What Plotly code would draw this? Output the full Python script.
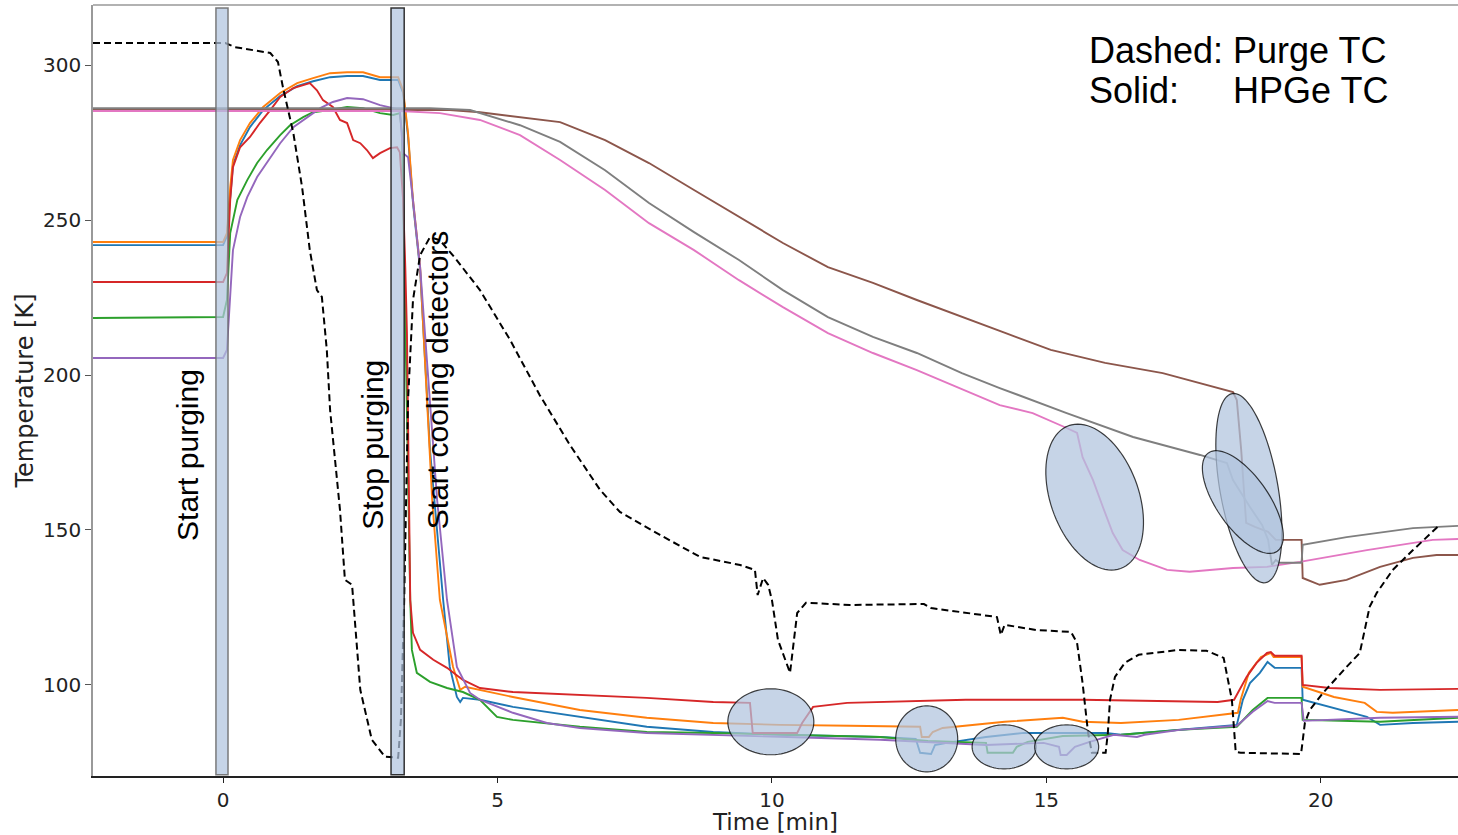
import numpy as np
import plotly.graph_objects as go

# ---------------- data (time in min, temperature in K) ----------------
purge_t = [-2.37, 0.04, 0.22, 0.86, 1.00, 1.09, 1.28, 1.44, 1.58, 1.71, 1.80, 1.89, 1.95, 2.13, 2.22, 2.35,
           2.50, 2.71, 2.95, 3.19, 3.24, 3.30, 3.37, 3.46, 3.59, 3.77, 3.95, 4.23, 4.68, 5.23, 5.77, 6.32,
           6.87, 7.23, 7.96, 8.69, 9.42, 9.69, 9.74, 9.84, 9.93, 10.00, 10.11, 10.33, 10.46, 10.62, 11.42,
           12.77, 12.90, 14.10, 14.17, 14.24, 14.81, 15.45, 15.56, 15.66, 15.76, 15.83, 16.08, 16.12, 16.16,
           16.25, 16.43, 16.68, 17.41, 17.92, 18.23, 18.38, 18.45, 18.54, 19.64, 19.71, 19.80, 20.04, 20.47,
           20.71, 20.80, 20.89, 21.02, 21.31, 21.68, 22.13]
purge_T = [307.1, 307.1, 305.8, 303.9, 301.0, 292.9, 278.1, 260.6, 240.3, 227.4, 225.2, 208.1, 188.7, 156.5, 133.9, 132.3,
           98.4, 82.3, 76.8, 76.5, 88.7, 127.4, 191.9, 224.2, 238.7, 244.5, 243.5, 237.7, 227.4, 211.3, 193.5, 177.4,
           162.9, 155.8, 148.4, 141.3, 138.7, 137.1, 129.0, 134.5, 132.3, 127.4, 114.5, 103.9, 123.2, 126.5, 125.8,
           126.1, 124.8, 121.9, 116.1, 119.4, 117.7, 117.1, 113.5, 100.6, 84.5, 78.1, 78.1, 84.5, 95.2,
           102.6, 107.1, 109.7, 111.3, 111.0, 108.7, 95.2, 78.4, 78.1, 77.7, 87.7, 91.9, 97.4, 105.8,
           110.3, 117.7, 125.2, 129.7, 137.1, 143.5, 151.0]

blue_t = [-2.37, 0.0, 0.07, 0.13, 0.18, 0.31, 0.49, 0.73, 1.04, 1.35, 1.64, 1.95, 2.26, 2.55, 2.86, 3.19, 3.28, 3.37,
          3.46, 3.59, 3.77, 4.01, 4.13, 4.26, 4.32, 4.37, 4.68, 5.28, 6.50, 7.72, 8.93, 10.15, 11.97, 12.62, 12.70,
          12.90, 12.97, 13.19, 13.90, 14.59, 15.30, 16.08, 16.36, 17.43, 18.47, 18.58, 18.71, 18.89, 19.03, 19.16,
          19.65, 19.67, 20.16, 20.84, 21.08, 21.68, 22.50]
blue_T = [241.9, 241.9, 244.8, 259.0, 267.7, 274.2, 280.0, 285.5, 290.0, 293.2, 294.8, 296.1, 296.5, 296.5, 295.2, 295.2, 291.0, 277.1,
          255.5, 233.9, 175.8, 127.4, 105.8, 96.1, 94.5, 95.8, 95.2, 92.9, 89.7, 86.5, 84.8, 83.9, 83.2, 82.6, 78.1,
          77.7, 80.6, 81.3, 83.2, 84.5, 84.5, 84.5, 83.9, 85.5, 87.1, 95.2, 100.6, 103.9, 107.4, 105.5,
          105.5, 95.2, 92.9, 89.7, 87.1, 87.7, 88.1]

orange_t = [-2.37, 0.0, 0.07, 0.13, 0.18, 0.31, 0.49, 0.73, 1.04, 1.35, 1.64, 1.95, 2.26, 2.55, 2.86, 3.19, 3.28, 3.37,
            3.46, 3.59, 3.81, 3.95, 4.19, 4.32, 4.41, 4.68, 5.28, 6.50, 7.72, 8.93, 10.15, 11.42, 12.70, 12.73, 12.86,
            12.93, 13.11, 14.24, 15.30, 15.66, 16.36, 17.41, 18.49, 18.54, 18.69, 18.91, 19.09, 19.14, 19.65, 19.67,
            20.24, 20.80, 21.02, 21.31, 22.50]
orange_T = [242.9, 242.9, 245.8, 260.6, 269.4, 275.8, 281.3, 286.5, 291.0, 294.2, 295.8, 297.4, 297.7, 297.7, 296.1, 296.1, 291.9, 278.1,
            256.5, 234.8, 159.7, 127.4, 105.8, 98.4, 99.4, 98.4, 96.1, 91.9, 89.4, 87.7, 87.1, 86.8, 86.5, 83.2, 83.2,
            84.8, 86.1, 88.1, 89.4, 88.1, 87.7, 88.7, 91.0, 95.2, 103.9, 109.0, 110.3, 109.0, 109.0, 99.4,
            96.1, 94.2, 91.3, 91.0, 91.9]

green_t = [-2.37, 0.0, 0.07, 0.13, 0.26, 0.44, 0.62, 0.80, 1.04, 1.22, 1.46, 1.64, 1.95, 2.26, 2.55, 2.86, 3.10, 3.22,
           3.26, 3.28, 3.32, 3.35, 3.41, 3.44, 3.53, 3.77, 4.08, 4.37, 4.68, 4.99, 5.28, 6.50, 7.72, 8.93, 10.15,
           11.97, 12.84, 13.90, 13.93, 14.39, 14.46, 14.66, 15.30, 16.36, 17.43, 18.47, 18.76, 19.03, 19.16, 19.65,
           19.67, 21.08, 22.50]
green_T = [218.4, 218.7, 224.2, 245.8, 256.5, 262.9, 268.4, 272.6, 277.4, 280.6, 283.2, 284.8, 285.5, 286.5, 286.1, 284.5, 283.9, 284.5,
           278.1, 256.5, 224.2, 185.5, 127.4, 111.3, 103.9, 101.0, 99.0, 97.7, 95.2, 89.7, 88.7, 86.5, 84.8, 84.5, 83.9,
           83.2, 81.9, 81.3, 78.1, 78.1, 80.0, 81.6, 83.5, 83.9, 85.5, 86.5, 91.9, 95.8, 95.8, 95.8,
           88.7, 88.1, 89.4]

red_t = [-2.37, 0.0, 0.07, 0.13, 0.18, 0.31, 0.49, 0.67, 0.86, 1.04, 1.28, 1.58, 1.71, 1.82, 2.00, 2.13, 2.26, 2.37,
         2.50, 2.62, 2.73, 2.86, 3.04, 3.17, 3.22, 3.28, 3.32, 3.35, 3.37, 3.41, 3.46, 3.59, 3.83, 4.08, 4.37, 4.68,
         5.28, 6.50, 7.72, 8.93, 9.60, 9.65, 10.46, 10.55, 10.75, 11.37, 13.53, 15.66, 18.12, 18.42, 18.65, 18.83,
         19.02, 19.09, 19.16, 19.65, 19.67, 20.16, 21.08, 22.50]
red_T = [230.0, 230.0, 232.9, 256.5, 267.1, 273.5, 276.8, 281.3, 285.5, 289.7, 292.6, 294.2, 291.9, 288.7, 286.5, 282.3, 281.3, 275.8,
         274.8, 272.6, 270.0, 271.6, 273.2, 273.5, 271.9, 256.5, 234.8, 213.5, 185.5, 127.4, 116.8, 111.3, 108.1, 105.5, 101.6, 99.0,
         97.7, 96.8, 95.8, 94.5, 94.2, 84.5, 84.5, 87.7, 92.9, 94.2, 95.2, 95.2, 94.5, 95.2, 102.6, 107.1,
         110.3, 110.6, 109.4, 109.4, 100.0, 99.0, 98.4, 98.7]

purple_t = [-2.37, 0.0, 0.07, 0.13, 0.18, 0.31, 0.44, 0.62, 0.80, 1.04, 1.28, 1.53, 1.77, 2.00, 2.26, 2.55, 2.86, 3.10,
            3.22, 3.28, 3.37, 3.46, 3.59, 3.90, 4.08, 4.26, 4.50, 4.68, 4.99, 5.28, 5.90, 6.50, 7.72, 8.93, 10.15,
            11.97, 13.90, 14.95, 15.23, 15.26, 15.37, 15.52, 15.79, 16.23, 16.65, 16.79, 17.43, 18.47, 18.76, 19.03,
            19.16, 19.65, 19.69, 21.08, 22.50]
purple_T = [205.5, 205.5, 208.1, 224.2, 240.3, 251.0, 257.4, 263.9, 268.4, 274.8, 280.0, 283.2, 286.1, 288.1, 289.4, 289.0, 287.1, 286.1,
            285.5, 271.6, 270.3, 256.5, 234.8, 159.7, 127.4, 105.8, 97.4, 95.2, 92.9, 91.0, 87.7, 86.1, 84.5, 83.9, 83.2,
            82.3, 80.6, 81.3, 80.0, 77.4, 77.4, 80.0, 81.6, 83.9, 83.2, 83.9, 85.5, 86.8, 91.3, 94.8,
            94.2, 94.2, 88.4, 89.4, 89.7]

brown_t = [-2.37, 4.13, 4.68, 5.41, 6.14, 6.96, 7.76, 8.58, 9.40, 10.20, 11.02, 11.84, 12.64, 13.46, 14.26, 15.08,
           16.07, 17.12, 18.40, 18.47, 18.55, 18.64, 18.80, 19.04, 19.18, 19.65, 19.67, 19.98, 20.47, 21.08, 21.68,
           22.11, 22.50]
brown_T = [285.5, 285.5, 284.8, 283.2, 281.6, 275.8, 268.4, 259.7, 251.0, 242.6, 234.8, 229.7, 224.2, 218.7, 213.5, 208.1,
           203.9, 200.6, 194.5, 191.9, 175.8, 152.3, 151.0, 149.4, 146.8, 146.8, 134.5, 132.3, 133.9, 138.1, 141.0,
           141.9, 141.9]

pink_t = [-2.37, 3.22, 3.95, 4.68, 5.41, 6.14, 6.96, 7.76, 8.58, 9.40, 10.20, 11.02, 11.84, 12.64, 14.15, 14.75,
          15.37, 15.56, 15.66, 15.85, 16.03, 16.21, 16.39, 16.70, 17.20, 17.61, 18.40, 19.02, 19.62, 20.84, 22.04, 22.50]
pink_T = [285.2, 285.2, 284.5, 282.3, 277.4, 269.4, 259.7, 249.0, 240.3, 230.6, 221.9, 213.5, 207.1, 201.6, 190.3, 187.7,
          182.9, 181.3, 173.5, 166.1, 157.4, 149.0, 143.5, 140.3, 137.1, 136.5, 137.7, 138.1, 139.7, 143.5, 146.8, 147.1]

gray_t = [-2.37, 3.77, 4.50, 5.41, 6.14, 6.96, 7.76, 8.58, 9.40, 10.20, 11.02, 11.84, 12.64, 13.46, 14.15, 15.37,
          16.58, 17.80, 18.29, 18.40, 18.71, 18.93, 19.04, 19.11, 19.18, 19.25, 19.65, 19.67, 20.47, 21.68, 22.50]
gray_T = [286.1, 286.1, 285.5, 280.6, 275.2, 266.1, 255.5, 246.1, 237.1, 227.4, 218.7, 212.3, 207.1, 200.6, 195.8, 187.7,
          180.0, 174.2, 171.6, 166.1, 157.4, 151.6, 146.8, 138.7, 140.3, 139.4, 139.4, 145.2, 147.7, 150.6, 151.3]

x_ticks = [0, 5, 10, 15, 20]
y_ticks = [100, 150, 200, 250, 300]

# ---------------- layout geometry ----------------
W, H = 1458, 835
M = dict(l=93, r=0, t=5, b=59)
X_RANGE = [-2.37, 22.5]
Y_RANGE = [70.6, 319.4]
plot_w = W - M['l'] - M['r']
plot_h = H - M['t'] - M['b']
sx = plot_w / (X_RANGE[1] - X_RANGE[0])
sy = plot_h / (Y_RANGE[1] - Y_RANGE[0])

fig = go.Figure()

solid = [
    (blue_t, blue_T, '#1f77b4'),
    (orange_t, orange_T, '#ff7f0e'),
    (green_t, green_T, '#2ca02c'),
    (red_t, red_T, '#d62728'),
    (purple_t, purple_T, '#9467bd'),
    (brown_t, brown_T, '#8c564b'),
    (pink_t, pink_T, '#e377c2'),
    (gray_t, gray_T, '#7f7f7f'),
]
for t, T, c in solid:
    fig.add_trace(go.Scatter(x=t, y=T, mode='lines', line=dict(color=c, width=1.9),
                             showlegend=False, hoverinfo='skip'))

fig.add_trace(go.Scatter(x=purge_t, y=purge_T, mode='lines',
                         line=dict(color='black', width=2, dash='7px,4px'),
                         showlegend=False, hoverinfo='skip'))

FILL = 'rgba(176,196,222,0.72)'

# vertical event bars
bars = [(-0.13, 0.09, 'rgba(110,110,110,0.9)'), (3.06, 3.30, 'rgba(30,30,30,0.9)')]
for x0, x1, lc in bars:
    fig.add_shape(type='rect', xref='x', yref='y', x0=x0, x1=x1, y0=71.0, y1=318.4,
                  fillcolor=FILL, line=dict(color=lc, width=1.5), layer='above')


def ellipse_path(tc, Tc, a_px, b_px, ang_deg, n=90):
    th = np.linspace(0, 2 * np.pi, n, endpoint=False)
    ang = np.deg2rad(ang_deg)
    u = a_px * np.cos(th)
    v = b_px * np.sin(th)
    dx = u * np.cos(ang) - v * np.sin(ang)
    dy = u * np.sin(ang) + v * np.cos(ang)
    xs = tc + dx / sx
    ys = Tc + dy / sy
    p = 'M %.4f,%.4f ' % (xs[0], ys[0])
    p += ' '.join('L %.4f,%.4f' % (a, b) for a, b in zip(xs[1:], ys[1:]))
    return p + ' Z'


# ellipses: centre (min, K), semi-axes (px), rotation (deg)
ellipses = [
    (9.98, 88.1, 43, 33, 0),
    (12.82, 82.6, 31, 33, 0),
    (14.23, 80.0, 32, 22, 0),
    (15.37, 80.0, 32, 22, 0),
    (15.88, 160.6, 76, 44, 110),
    (18.69, 163.5, 96, 29, 100),
    (18.58, 159.0, 60, 26, 125),
]
for tc, Tc, a, b, ang in ellipses:
    fig.add_shape(type='path', xref='x', yref='y', path=ellipse_path(tc, Tc, a, b, ang),
                  fillcolor=FILL, line=dict(color='rgba(0,0,0,0.75)', width=1.2), layer='above')

# rotated event labels
AFONT = 'Liberation Sans, Arial, sans-serif'
labels = [('Start purging', -0.64, 174.2), ('Stop purging', 2.71, 177.4),
          ('Start cooling detectors', 3.92, 198.4)]
for txt, x, y in labels:
    fig.add_annotation(x=x, y=y, xref='x', yref='y', text=txt, textangle=-90, showarrow=False,
                       font=dict(family=AFONT, size=30, color='black'),
                       xanchor='center', yanchor='middle')

# key text
key = [('Dashed:', 'Purge TC', 50), ('Solid:', 'HPGe TC', 90)]
for left, right, py in key:
    yp = (H - M['b'] - py) / plot_h
    fig.add_annotation(x=(1087 - M['l']) / plot_w, y=yp, xref='paper', yref='paper', text=left,
                       showarrow=False, xanchor='left', yanchor='middle',
                       font=dict(family=AFONT, size=36, color='black'))
    fig.add_annotation(x=(1231 - M['l']) / plot_w, y=yp, xref='paper', yref='paper', text=right,
                       showarrow=False, xanchor='left', yanchor='middle',
                       font=dict(family=AFONT, size=36, color='black'))

# top frame line
fig.add_shape(type='line', xref='paper', yref='paper', x0=0, x1=1, y0=1, y1=1,
              line=dict(color='#999999', width=1.5))

TFONT = 'DejaVu Sans, sans-serif'
fig.update_layout(
    width=W, height=H, margin=M,
    plot_bgcolor='white', paper_bgcolor='white',
    xaxis=dict(range=X_RANGE, tickvals=x_ticks, ticktext=[str(v) for v in x_ticks],
               showgrid=False, zeroline=False, showline=True, linecolor='#222222', linewidth=1.5,
               ticks='outside', ticklen=5, tickcolor='#222222', tickwidth=1.2,
               tickfont=dict(family=TFONT, size=20, color='#222222'),
               title=dict(text='Time [min]', font=dict(family=TFONT, size=23, color='#222222'), standoff=4)),
    yaxis=dict(range=Y_RANGE, tickvals=y_ticks, ticktext=[str(v) for v in y_ticks],
               showgrid=False, zeroline=False, showline=True, linecolor='#999999', linewidth=1.5,
               ticks='outside', ticklen=6, tickcolor='#555555', tickwidth=1.2,
               tickfont=dict(family=TFONT, size=20, color='#222222'),
               title=dict(text='Temperature [K]', font=dict(family=TFONT, size=24, color='#222222'), standoff=3)),
)

fig.write_html('out.html', config={'displayModeBar': False},
               post_script="document.body.style.margin='0';document.body.style.overflow='hidden';")
